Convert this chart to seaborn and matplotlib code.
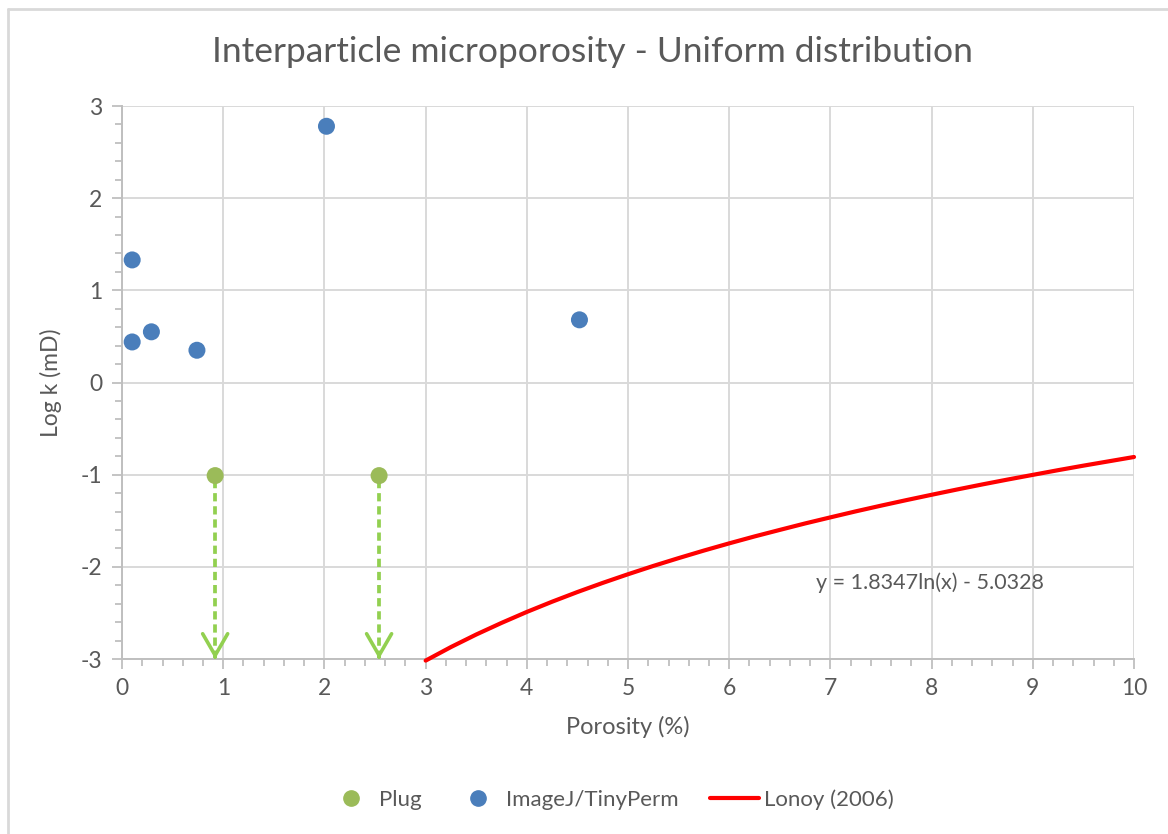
import matplotlib
matplotlib.use("Agg")
import matplotlib.pyplot as plt
from matplotlib.lines import Line2D
from matplotlib.ticker import MultipleLocator
import seaborn as sns
import pandas as pd

# Core plug measurements (permeability below detection -> arrows)
plug_porosity = [0.92, 2.54]
plug_logk = [-1.01, -1.01]

# ImageJ / TinyPerm estimates
ij_porosity = [0.10, 0.10, 0.29, 0.74, 2.02, 4.52]
ij_logk = [1.33, 0.44, 0.55, 0.35, 2.78, 0.68]

# Lonoy (2006) interparticle microporosity trend
lonoy_porosity = [3.0, 3.25, 3.5, 3.75, 4.0, 4.25, 4.5, 4.75, 5.0, 5.25, 5.5, 5.75,
                  6.0, 6.25, 6.5, 6.75, 7.0, 7.25, 7.5, 7.75, 8.0, 8.25, 8.5, 8.75,
                  9.0, 9.25, 9.5, 9.75, 10.0]
lonoy_logk = [-3.017, -2.870, -2.734, -2.608, -2.489, -2.378, -2.273, -2.174,
              -2.080, -1.990, -1.905, -1.823, -1.745, -1.670, -1.599, -1.529,
              -1.463, -1.398, -1.336, -1.276, -1.218, -1.161, -1.106, -1.053,
              -1.002, -0.951, -0.902, -0.855, -0.808]

title = "Interparticle microporosity - Uniform distribution"
equation = "y = 1.8347ln(x) - 5.0328"

sns.set_theme(style="white")
plt.rcParams["font.family"] = ["Lato", "DejaVu Sans"]
plt.rcParams["axes.unicode_minus"] = False

TEXT = "#595959"
GRID = "#d9d9d9"
AXIS = "#bfbfbf"
BLUE = "#4a7ebb"
GREEN = "#9bbb59"
ARROW = "#92d050"
RED = "#ff0000"

fig = plt.figure(figsize=(11.68, 8.34), dpi=100)
ax = fig.add_axes([0.1045, 0.2098, 0.8664, 0.6631])

plug_df = pd.DataFrame({"x": plug_porosity, "y": plug_logk})
ij_df = pd.DataFrame({"x": ij_porosity, "y": ij_logk})
lonoy_df = pd.DataFrame({"x": lonoy_porosity, "y": lonoy_logk})

# dashed arrows from plug points down to the axis floor
for px, py in zip(plug_porosity, plug_logk):
    ax.plot([px, px], [py - 0.05, -2.97], ls=(0, (2.2, 1.3)), color=ARROW, lw=2.7, zorder=3)
    ax.annotate("", xy=(px, -3.0), xytext=(px, -2.97),
                arrowprops=dict(arrowstyle="->,head_length=1.3,head_width=0.75",
                                color=ARROW, lw=2.6, shrinkA=0, shrinkB=0),
                zorder=3, annotation_clip=False)

sns.lineplot(data=lonoy_df, x="x", y="y", ax=ax, color=RED, lw=3, zorder=4,
             legend=False, clip_on=False)
sns.scatterplot(data=plug_df, x="x", y="y", ax=ax, color=GREEN, s=150,
                edgecolor="none", zorder=5, legend=False)
sns.scatterplot(data=ij_df, x="x", y="y", ax=ax, color=BLUE, s=150,
                edgecolor="none", zorder=5, legend=False)

ax.set_xlim(0, 10)
ax.set_ylim(-3, 3)
ax.xaxis.set_major_locator(MultipleLocator(1))
ax.xaxis.set_minor_locator(MultipleLocator(0.2))
ax.yaxis.set_major_locator(MultipleLocator(1))
ax.yaxis.set_minor_locator(MultipleLocator(0.2))

ax.grid(True, which="major", color=GRID, lw=1.4)
ax.set_axisbelow(True)
for side in ["top", "right"]:
    ax.spines[side].set_visible(False)
for side in ["left", "bottom"]:
    ax.spines[side].set_color(AXIS)
    ax.spines[side].set_linewidth(1.4)

ax.tick_params(axis="both", which="major", direction="out", length=7, width=1.3,
               color=AXIS, labelsize=16.5, labelcolor=TEXT, pad=7)
ax.tick_params(axis="both", which="minor", direction="out", length=5, width=1.3,
               color=AXIS)
ax.tick_params(axis="x", which="both", bottom=True)
ax.tick_params(axis="y", which="both", left=True)

ax.set_xlabel("Porosity (%)", fontsize=17, color=TEXT, labelpad=12)
ax.set_ylabel("Log k (mD)", fontsize=16.5, color=TEXT, labelpad=14)
fig.text(0.507, 0.938, title, ha="center", va="center", fontsize=25.5, color=TEXT)

ax.text(7.98, -2.17, equation, ha="center", va="center", fontsize=15.5, color=TEXT)

handles = [
    Line2D([], [], ls="none", marker="o", markersize=11, color=GREEN),
    Line2D([], [], ls="none", marker="o", markersize=11, color=BLUE),
    Line2D([], [], color=RED, lw=3),
]
leg = fig.legend(handles, ["Plug", "ImageJ/TinyPerm", "Lonoy (2006)"],
                 loc="center", bbox_to_anchor=(0.522, 0.041), ncol=3, frameon=False,
                 fontsize=16, handlelength=2.2, columnspacing=1.4, handletextpad=0.2)
for t in leg.get_texts():
    t.set_color(TEXT)

# chart-area border
fig.add_artist(Line2D([8 / 1168, 1.0], [1 - 9 / 834, 1 - 9 / 834],
                      transform=fig.transFigure, color="#d9d9d9", lw=2))
fig.add_artist(Line2D([8 / 1168, 8 / 1168], [0.0, 1 - 9 / 834],
                      transform=fig.transFigure, color="#d9d9d9", lw=2))

fig.savefig("out.png", dpi=100, facecolor="white")
